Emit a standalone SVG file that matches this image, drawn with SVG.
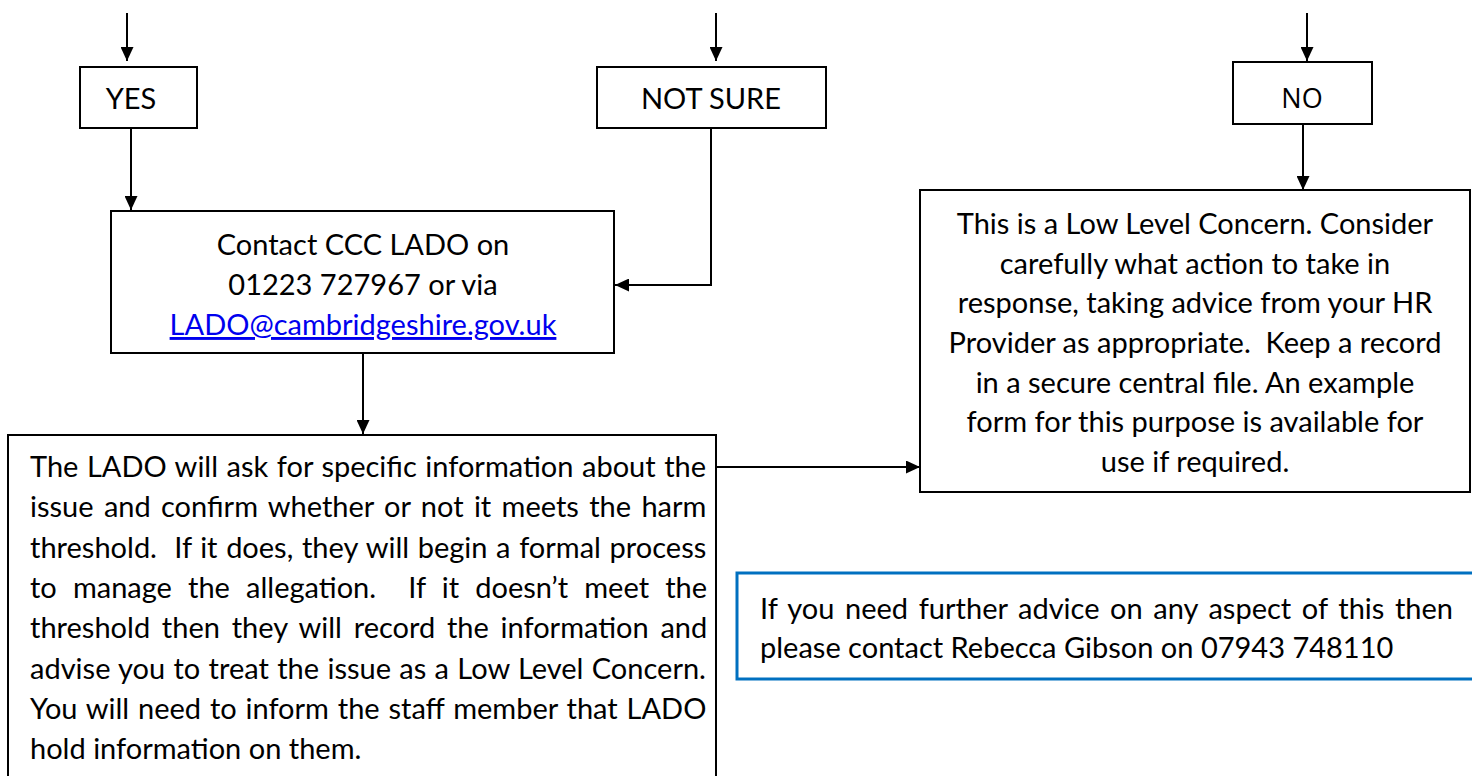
<svg xmlns="http://www.w3.org/2000/svg" width="1472" height="776" viewBox="0 0 1472 776">
<style>
.box{fill:#fff;stroke:#000;stroke-width:2}
.t{font-family:Lato,"Open Sans",sans-serif;font-size:29px;fill:#000}
.c{text-anchor:middle}
.link{fill:#0000ee;text-decoration:underline}
.ln{fill:none;stroke:#000;stroke-width:2}
</style>
<defs>
<marker id="ah" viewBox="0 0 10 10" refX="10" refY="5" markerWidth="14" markerHeight="13" markerUnits="userSpaceOnUse" orient="auto" preserveAspectRatio="none">
<path d="M0,0 L10,5 L0,10 z" fill="#000"/>
</marker>
</defs>
<rect width="1472" height="776" fill="#fff"/>
<g id="connectors">
<line class="ln" x1="127" y1="13" x2="127" y2="61" marker-end="url(#ah)"/>
<line class="ln" x1="716" y1="13" x2="716" y2="61" marker-end="url(#ah)"/>
<line class="ln" x1="1307" y1="13" x2="1307" y2="61" marker-end="url(#ah)"/>
<line class="ln" x1="131" y1="128" x2="131" y2="210" marker-end="url(#ah)"/>
<polyline class="ln" points="711,128 711,285 615,285" marker-end="url(#ah)"/>
<line class="ln" x1="1303" y1="124" x2="1303" y2="190" marker-end="url(#ah)"/>
<line class="ln" x1="363" y1="353" x2="363" y2="434" marker-end="url(#ah)"/>
<line class="ln" x1="716" y1="467" x2="920" y2="467" marker-end="url(#ah)"/>
</g>
<g id="yes">
<rect class="box" x="80" y="67" width="117" height="61"/>
<text class="t c" x="131" y="109">YES</text>
</g>
<g id="notsure">
<rect class="box" x="597" y="67" width="229" height="61"/>
<text class="t c" x="711" y="109">NOT SURE</text>
</g>
<g id="no">
<rect class="box" x="1233" y="62" width="139" height="62"/>
<text class="t c" x="1302" y="108" style="font-family:'Open Sans','Noto Sans',sans-serif;font-size:27px">NO</text>
</g>
<g id="contact">
<rect class="box" x="111" y="211" width="503" height="142"/>
<text class="t c" x="363" y="255">Contact CCC LADO on</text>
<text class="t c" x="363" y="295">01223 727967 or via</text>
<text class="t c link" x="363" y="335">LADO@cambridgeshire.gov.uk</text>
</g>
<g id="lowlevel">
<rect class="box" x="920" y="190" width="550" height="302"/>
<text class="t c" x="1195" y="234">This is a Low Level Concern. Consider</text>
<text class="t c" x="1195" y="274">carefully what action to take in</text>
<text class="t c" x="1195" y="313">response, taking advice from your HR</text>
<text class="t c" x="1195" y="353" xml:space="preserve">Provider as appropriate.  Keep a record</text>
<text class="t c" x="1195" y="393">in a secure central file. An example</text>
<text class="t c" x="1195" y="432">form for this purpose is available for</text>
<text class="t c" x="1195" y="472">use if required.</text>
</g>
<g id="lado">
<rect class="box" x="8" y="435" width="708" height="345"/>
<text class="t" x="30" y="477" word-spacing="1.1">The LADO will ask for specific information about the</text>
<text class="t" x="30" y="517" word-spacing="2.9">issue and confirm whether or not it meets the harm</text>
<text class="t" x="30" y="558" word-spacing="1.2" xml:space="preserve">threshold.  If it does, they will begin a formal process</text>
<text class="t" x="30" y="598" word-spacing="8.7" xml:space="preserve">to manage the allegation.  If it doesn’t meet the</text>
<text class="t" x="30" y="638" word-spacing="4.3">threshold then they will record the information and</text>
<text class="t" x="30" y="679" word-spacing="0.9">advise you to treat the issue as a Low Level Concern.</text>
<text class="t" x="30" y="719" word-spacing="1.4">You will need to inform the staff member that LADO</text>
<text class="t" x="30" y="759">hold information on them.</text>
</g>
<g id="advice">
<rect x="737" y="573" width="740" height="106" fill="#fff" stroke="#0070c0" stroke-width="3"/>
<text class="t" x="760" y="619" word-spacing="3.2">If you need further advice on any aspect of this then</text>
<text class="t" x="760" y="658">please contact Rebecca Gibson on 07943 748110</text>
</g>
</svg>
